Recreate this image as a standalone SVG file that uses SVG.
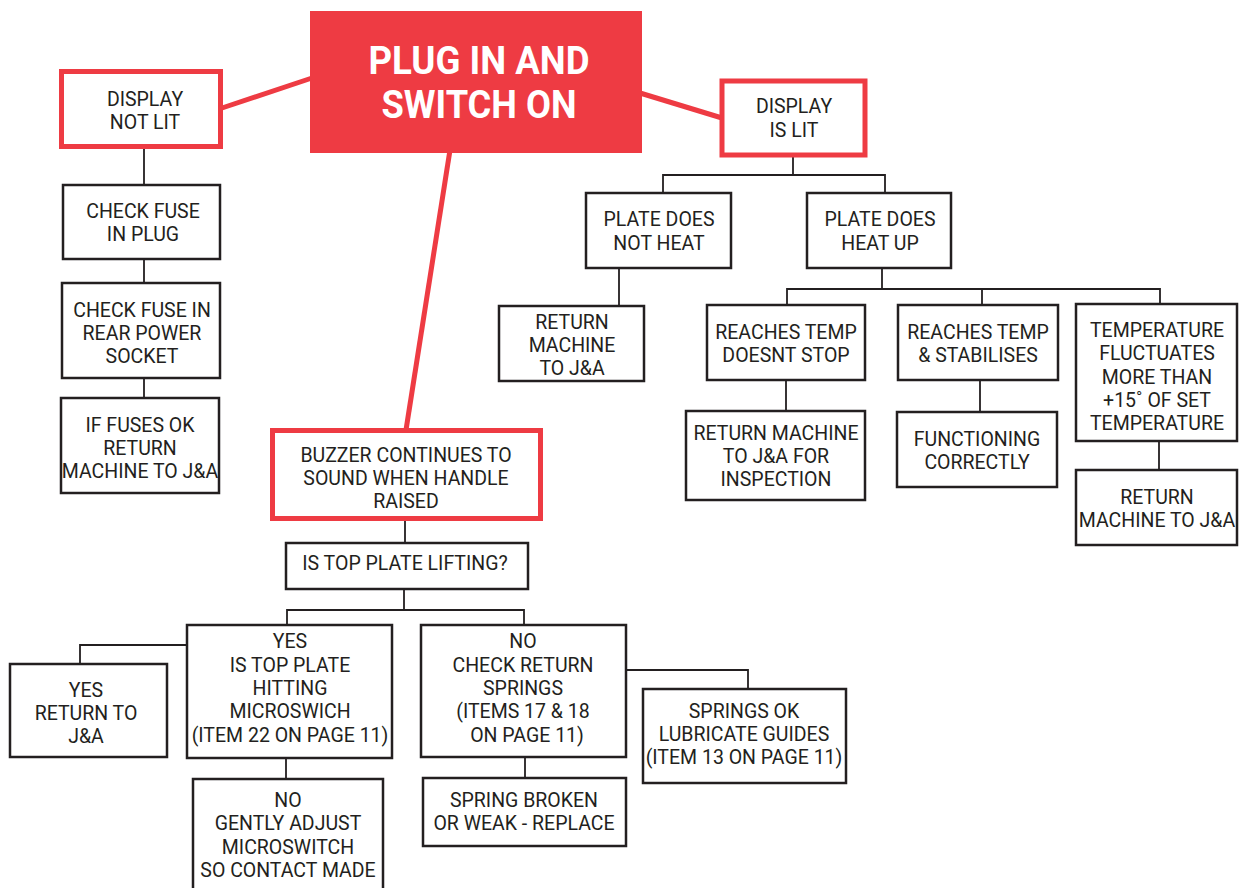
<svg xmlns="http://www.w3.org/2000/svg" width="1246" height="888" viewBox="0 0 1246 888">
<style>
.bg{fill:#ffffff}
.box{fill:#ffffff;stroke:#231f20;stroke-width:2.5}
.rbox{fill:#ffffff;stroke:#ee3b43;stroke-width:5}
.conn{fill:none;stroke:#231f20;stroke-width:1.8}
.rconn{fill:none;stroke:#ee3b43;stroke-width:5}
.t{font-family:Roboto,"Liberation Sans",sans-serif;font-size:19.5px;fill:#231f20;text-anchor:middle}
.title{font-family:Roboto,"Liberation Sans",sans-serif;font-size:39px;font-weight:bold;fill:#ffffff;text-anchor:middle}
</style>
<rect class="bg" x="0" y="0" width="1246" height="888"/>
<g id="connectors">
<line class="rconn" x1="222" y1="108" x2="312" y2="78"/>
<line class="rconn" x1="640" y1="93" x2="722" y2="118"/>
<line class="rconn" x1="450" y1="150" x2="406" y2="430"/>
<polyline class="conn" points="144,148 144,184"/>
<polyline class="conn" points="144,259 144,283"/>
<polyline class="conn" points="144,378 144,398"/>
<polyline class="conn" points="793,156 793,175"/>
<polyline class="conn" points="663,193 663,175 885,175 885,193"/>
<polyline class="conn" points="619,268 619,306"/>
<polyline class="conn" points="882,268 882,289"/>
<polyline class="conn" points="787,305 787,289 1160,289 1160,304"/>
<polyline class="conn" points="982,289 982,305"/>
<polyline class="conn" points="786,380 786,411"/>
<polyline class="conn" points="980,380 980,412"/>
<polyline class="conn" points="1159,441 1159,470"/>
<polyline class="conn" points="405,521 405,543"/>
<polyline class="conn" points="404,589 404,610"/>
<polyline class="conn" points="287,625 287,610 524,610 524,625"/>
<polyline class="conn" points="187,645 80,645 80,664"/>
<polyline class="conn" points="286,758 286,779"/>
<polyline class="conn" points="525,757 525,778"/>
<polyline class="conn" points="626,670 748,670 748,689"/>
</g>
<g id="plug-in">
<rect x="310" y="11" width="332" height="142" fill="#ee3b43"/>
<text class="title" x="479" y="74" textLength="221" lengthAdjust="spacingAndGlyphs">PLUG IN AND</text>
<text class="title" x="479" y="118" textLength="195" lengthAdjust="spacingAndGlyphs">SWITCH ON</text>
</g>
<g id="display-not-lit">
<rect class="rbox" x="61.5" y="71.5" width="159" height="75"/>
<text class="t" x="145" y="106">DISPLAY</text>
<text class="t" x="145" y="129">NOT LIT</text>
</g>
<g id="check-fuse-plug">
<rect class="box" x="63" y="185" width="157" height="74"/>
<text class="t" x="143" y="218">CHECK FUSE</text>
<text class="t" x="143" y="241">IN PLUG</text>
</g>
<g id="check-fuse-rear">
<rect class="box" x="62" y="283" width="158" height="95"/>
<text class="t" x="142" y="317">CHECK FUSE IN</text>
<text class="t" x="142" y="340">REAR POWER</text>
<text class="t" x="142" y="363">SOCKET</text>
</g>
<g id="fuses-ok">
<rect class="box" x="61" y="398" width="158" height="95"/>
<text class="t" x="140" y="432">IF FUSES OK</text>
<text class="t" x="140" y="455">RETURN</text>
<text class="t" x="140" y="478">MACHINE TO J&amp;A</text>
</g>
<g id="display-is-lit">
<rect class="rbox" x="722" y="81" width="143" height="74"/>
<text class="t" x="794" y="113">DISPLAY</text>
<text class="t" x="794" y="137">IS LIT</text>
</g>
<g id="plate-not-heat">
<rect class="box" x="586" y="193" width="145" height="75"/>
<text class="t" x="659" y="226">PLATE DOES</text>
<text class="t" x="659" y="250">NOT HEAT</text>
</g>
<g id="plate-heat-up">
<rect class="box" x="807" y="193" width="144" height="75"/>
<text class="t" x="880" y="226">PLATE DOES</text>
<text class="t" x="880" y="250">HEAT UP</text>
</g>
<g id="return-machine-1">
<rect class="box" x="499" y="306" width="145" height="75"/>
<text class="t" x="572" y="329">RETURN</text>
<text class="t" x="572" y="352">MACHINE</text>
<text class="t" x="572" y="375">TO J&amp;A</text>
</g>
<g id="reaches-temp-no-stop">
<rect class="box" x="707" y="305" width="158" height="75"/>
<text class="t" x="786" y="339">REACHES TEMP</text>
<text class="t" x="786" y="362">DOESNT STOP</text>
</g>
<g id="reaches-temp-stable">
<rect class="box" x="898" y="305" width="160" height="75"/>
<text class="t" x="978" y="339">REACHES TEMP</text>
<text class="t" x="978" y="362">&amp; STABILISES</text>
</g>
<g id="temp-fluctuates">
<rect class="box" x="1076" y="304" width="161" height="137"/>
<text class="t" x="1157" y="337">TEMPERATURE</text>
<text class="t" x="1157" y="360">FLUCTUATES</text>
<text class="t" x="1157" y="384">MORE THAN</text>
<text class="t" x="1157" y="407">+15˚ OF SET</text>
<text class="t" x="1157" y="430">TEMPERATURE</text>
</g>
<g id="return-inspection">
<rect class="box" x="686" y="411" width="179" height="89"/>
<text class="t" x="776" y="440">RETURN MACHINE</text>
<text class="t" x="776" y="463">TO J&amp;A FOR</text>
<text class="t" x="776" y="486">INSPECTION</text>
</g>
<g id="functioning">
<rect class="box" x="897" y="412" width="160" height="75"/>
<text class="t" x="977" y="446">FUNCTIONING</text>
<text class="t" x="977" y="469">CORRECTLY</text>
</g>
<g id="return-machine-2">
<rect class="box" x="1076" y="470" width="161" height="75"/>
<text class="t" x="1157" y="504">RETURN</text>
<text class="t" x="1157" y="527">MACHINE TO J&amp;A</text>
</g>
<g id="buzzer">
<rect class="rbox" x="272.5" y="430.5" width="268" height="88"/>
<text class="t" x="406" y="462">BUZZER CONTINUES TO</text>
<text class="t" x="406" y="485">SOUND WHEN HANDLE</text>
<text class="t" x="406" y="508">RAISED</text>
</g>
<g id="top-plate-lifting">
<rect class="box" x="286" y="543" width="242" height="46"/>
<text class="t" x="405" y="570">IS TOP PLATE LIFTING?</text>
</g>
<g id="yes-hitting">
<rect class="box" x="187" y="625" width="205" height="133"/>
<text class="t" x="290" y="648">YES</text>
<text class="t" x="290" y="672">IS TOP PLATE</text>
<text class="t" x="290" y="695">HITTING</text>
<text class="t" x="290" y="718">MICROSWICH</text>
<text class="t" x="290" y="742">(ITEM 22 ON PAGE 11)</text>
</g>
<g id="no-check-springs">
<rect class="box" x="421" y="625" width="205" height="132"/>
<text class="t" x="523" y="648">NO</text>
<text class="t" x="523" y="672">CHECK RETURN</text>
<text class="t" x="523" y="695">SPRINGS</text>
<text class="t" x="523" y="718">(ITEMS 17 &amp; 18</text>
<text class="t" x="527" y="742">ON PAGE 11)</text>
</g>
<g id="yes-return">
<rect class="box" x="10" y="664" width="157" height="93"/>
<text class="t" x="86" y="697">YES</text>
<text class="t" x="86" y="720">RETURN TO</text>
<text class="t" x="86" y="743">J&amp;A</text>
</g>
<g id="no-adjust">
<rect class="box" x="193" y="779" width="190" height="115"/>
<text class="t" x="288" y="807">NO</text>
<text class="t" x="288" y="830">GENTLY ADJUST</text>
<text class="t" x="288" y="854">MICROSWITCH</text>
<text class="t" x="288" y="877">SO CONTACT MADE</text>
</g>
<g id="spring-broken">
<rect class="box" x="423" y="778" width="203" height="68"/>
<text class="t" x="524" y="807">SPRING BROKEN</text>
<text class="t" x="524" y="830">OR WEAK - REPLACE</text>
</g>
<g id="springs-ok">
<rect class="box" x="643" y="689" width="203" height="94"/>
<text class="t" x="744" y="718">SPRINGS OK</text>
<text class="t" x="744" y="741">LUBRICATE GUIDES</text>
<text class="t" x="744" y="764">(ITEM 13 ON PAGE 11)</text>
</g>
</svg>
